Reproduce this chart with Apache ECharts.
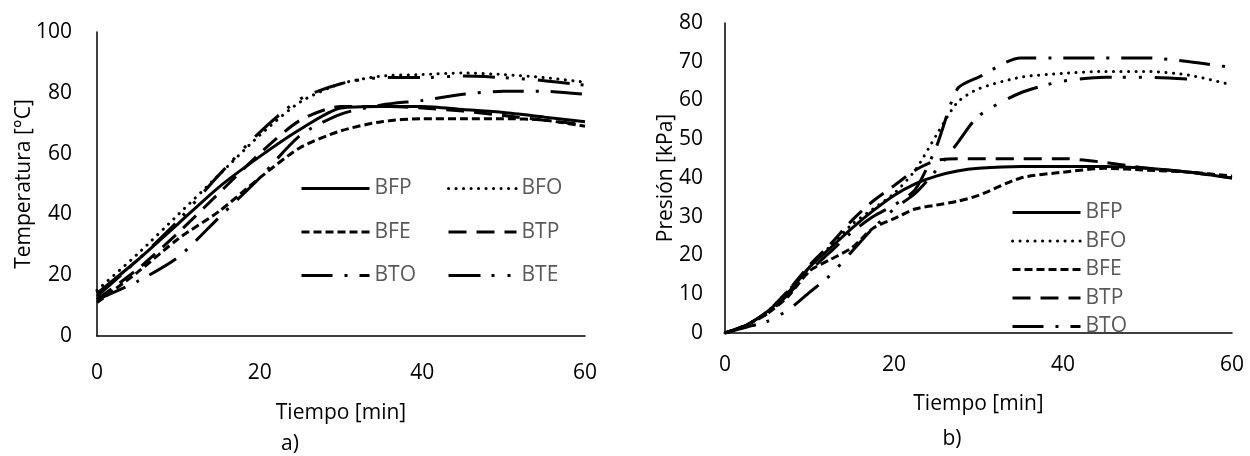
<!DOCTYPE html>
<html>
<head>
<meta charset="UTF-8">
<title>Temperatura y presión</title>
<style>
  html, body { margin: 0; padding: 0; background: #fff; }
  #main { width: 1250px; height: 456px; }
</style>
</head>
<body>
<div id="main"></div>
<script src="https://cdn.jsdelivr.net/npm/echarts@6/dist/echarts.min.js"></script>
<script>
// a) temperatura [°C]
var tiempoA = [0, 5, 10, 15, 20, 25, 30, 35, 40, 45, 50, 55, 60];
var tempBFP = [14, 25, 37, 49, 59, 68, 75, 75.5, 75.5, 74.5, 73.5, 72, 70.5];
var tempBFO = [15, 27, 40, 53, 66, 77, 83, 85.5, 86, 86.5, 86, 85, 83.5];
var tempBFE = [11, 21, 32, 41, 52, 62, 67.5, 70.5, 71.5, 71.5, 71.5, 71, 69];
var tempBTP = [12, 22, 34, 47, 60, 71, 75.5, 75.5, 75, 74, 72.5, 71, 69.5];
var tempBTO = [12, 18, 26, 39, 52, 66, 73, 76, 77.5, 79.5, 80.5, 80.5, 79.5];
var tempBTE = [13, 25, 38, 53, 67, 78, 83, 85, 85, 85.5, 85, 84, 82.5];

// b) presión [kPa]
var tiempoB = [0, 2.5, 5, 7.5, 10, 12.5, 15, 17.5, 20, 22.5, 25, 27.5, 30, 35, 40, 45, 50, 55, 60];
var presBFP = [0, 2, 5.5, 10.5, 17, 22, 27, 31.5, 35.5, 38.5, 40.5, 41.8, 42.5, 43, 43, 43, 42.5, 41.5, 40];
var presBFO = [0, 2, 5.5, 11, 17, 22.5, 28, 32, 36, 42, 51, 59.5, 63, 66, 67, 67.5, 67.5, 66.5, 64];
var presBFE = [0, 2, 5, 9.5, 16, 19, 22, 27, 29.5, 32, 33, 34, 35.5, 40, 41.5, 42.5, 42, 41.5, 40.5];
var presBTP = [0, 2, 5.5, 11, 17.5, 23, 29, 34, 38, 42, 44.5, 45, 45, 45, 45, 44, 42.5, 41.5, 40];
var presBTO = [0, 2, 5, 10, 16, 21, 26, 30, 33, 37, 48, 63, 66, 71, 71, 71, 71, 70, 68.5];
var presBTE = [0, 1.5, 3, 6, 10.5, 15, 21, 27, 32, 36, 42, 49, 56, 62, 65, 66, 66, 65.5, null];

var xTicks = [0, 20, 40, 60];

// tipos de línea (estilo Excel)
var estilos = {
  BFP: { type: 'solid', cap: 'butt' },
  BFO: { type: [0.1, 7.4], cap: 'round' },
  BFE: { type: [8, 4], cap: 'butt' },
  BTP: { type: [18, 10], cap: 'butt' },
  BTO: { type: [31, 12, 3, 12], cap: 'butt' },
  BTE: { type: [32, 11, 3, 13, 3, 13], cap: 'butt' }
};

var fuente = 'Open Sans';

function pares(xs, ys) {
  var out = [];
  for (var i = 0; i < xs.length; i++) {
    if (ys[i] !== null && ys[i] !== undefined) out.push([xs[i], ys[i]]);
  }
  return out;
}

function serie(nombre, idx, xs, ys) {
  return {
    name: nombre,
    type: 'line',
    xAxisIndex: idx,
    yAxisIndex: idx,
    data: pares(xs, ys),
    symbol: 'none',
    showSymbol: false,
    smooth: 0.25,
    lineStyle: {
      color: '#000',
      width: 3,
      type: estilos[nombre].type,
      cap: estilos[nombre].cap
    },
    itemStyle: { color: '#000' }
  };
}

function leyenda(datos, left, top, gap) {
  return {
    orient: 'vertical',
    left: left,
    top: top,
    data: datos,
    itemWidth: 68,
    itemHeight: 14,
    itemGap: gap,
    padding: 0,
    selectedMode: false,
    lineStyle: { width: 3 },
    itemStyle: { color: 'rgba(0,0,0,0)', borderWidth: 0 },
    textStyle: { color: '#595959', fontFamily: fuente, fontSize: 21, lineHeight: 20 }
  };
}

var ejeX = function (idx, gapName, margin) {
  return {
    type: 'value',
    gridIndex: idx,
    min: 0,
    max: 60,
    interval: 20,
    name: 'Tiempo [min]',
    nameLocation: 'middle',
    nameGap: gapName,
    nameMoveOverlap: false,
    nameTextStyle: { color: '#000', fontFamily: fuente, fontSize: 21 },
    axisLine: { lineStyle: { color: '#000', width: 1.5 } },
    axisTick: { show: false },
    splitLine: { show: false },
    axisLabel: { color: '#000', fontFamily: fuente, fontSize: 21, margin: margin,
      formatter: function (v) { return xTicks.indexOf(v) >= 0 ? String(v) : ''; } }
  };
};

var ejeY = function (idx, max, interval, nombre, gapName, margin) {
  return {
    type: 'value',
    gridIndex: idx,
    min: 0,
    max: max,
    interval: interval,
    name: nombre,
    nameLocation: 'middle',
    nameGap: gapName,
    nameMoveOverlap: false,
    nameTextStyle: { color: '#000', fontFamily: fuente, fontSize: 21 },
    axisLine: { show: true, lineStyle: { color: '#000', width: 1.5 } },
    axisTick: { show: false },
    splitLine: { show: false },
    axisLabel: { color: '#000', fontFamily: fuente, fontSize: 21, margin: margin }
  };
};

var series = [];
series.push(serie('BFP', 0, tiempoA, tempBFP));
series.push(serie('BFO', 0, tiempoA, tempBFO));
series.push(serie('BFE', 0, tiempoA, tempBFE));
series.push(serie('BTP', 0, tiempoA, tempBTP));
series.push(serie('BTO', 0, tiempoA, tempBTO));
series.push(serie('BTE', 0, tiempoA, tempBTE));
series.push(serie('BFP', 1, tiempoB, presBFP));
series.push(serie('BFO', 1, tiempoB, presBFO));
series.push(serie('BFE', 1, tiempoB, presBFE));
series.push(serie('BTP', 1, tiempoB, presBTP));
series.push(serie('BTO', 1, tiempoB, presBTO));
series.push(serie('BTE', 1, tiempoB, presBTE));

var myChart = echarts.init(document.getElementById('main'));
var option = {
  animation: false,
  backgroundColor: '#fff',
  title: [
    { text: 'a)', left: 285, top: 429, textAlign: 'center',
      textStyle: { color: '#000', fontFamily: fuente, fontSize: 21, fontWeight: 'normal' } },
    { text: 'b)', left: 947, top: 424, textAlign: 'center',
      textStyle: { color: '#000', fontFamily: fuente, fontSize: 21, fontWeight: 'normal' } }
  ],
  legend: [
    leyenda(['BFP', 'BFE', 'BTO'], 300, 178, 22.5),
    leyenda(['BFO', 'BTP', 'BTE'], 447, 178, 22.5),
    leyenda(['BFP', 'BFO', 'BFE', 'BTP', 'BTO'], 1011, 202, 7.5)
  ],
  grid: [
    { left: 97, top: 32, width: 488, height: 304 },
    { left: 725, top: 23, width: 507, height: 310 }
  ],
  xAxis: [ejeX(0, 67, 27), ejeX(1, 61, 22)],
  yAxis: [
    ejeY(0, 100, 20, 'Temperatura [°C]', 62, 25),
    ejeY(1, 80, 10, 'Presión [kPa]', 48, 22)
  ],
  series: series
};
if (option && typeof option === 'object') {
  myChart.setOption(option, true);
}
</script>
</body>
</html>
